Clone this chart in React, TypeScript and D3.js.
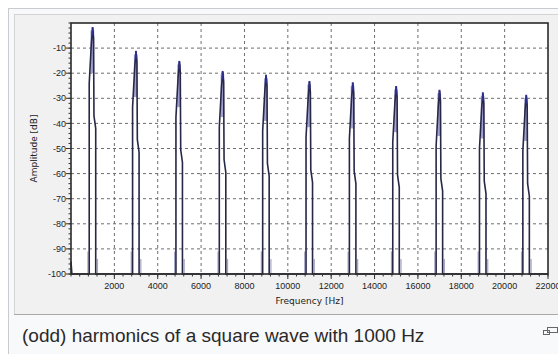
import * as d3 from 'd3';

// Odd harmonics of a 1000 Hz square wave, levels
const HARMONIC_HZ = [1000, 3000, 5000, 7000, 9000, 11000, 13000, 15000, 17000, 19000, 21000];
const PEAK_DB = [-2, -11.5, -15.5, -19.5, -21, -23.5, -24, -25.5, -27, -28, -29];

// shape of one spectral line: offset from the harmonic (Hz) and drop below its peak (dB), null = floor
const TRACE_OFFSET_HZ = [-160, -160, -60, 0, 40, 60, 140, 140];
const TRACE_DROP_DB: (number | null)[] = [null, 22, 6, 0, 4, 35, 40, null];
// lighter trace at the foot of each line
const FOOT_OFFSET_HZ = [-220, 220];
const FOOT_DB = [-91, -94];

const X_TICKS = [2000, 4000, 6000, 8000, 10000, 12000, 14000, 16000, 18000, 20000, 22000];
const Y_TICKS = [-10, -20, -30, -40, -50, -60, -70, -80, -90, -100];
const FLOOR_DB = -100;

export default function App() {
  const W = 558, H = 354;
  const left = 71, right = 548, top = 23, bottom = 274;
  const x = d3.scaleLinear().domain([0, 22000]).range([left, right]);
  const y = d3.scaleLinear().domain([-100, 0]).range([bottom, top]);

  // build the dark spectrum trace
  const pts: [number, number][] = [[0, -95], [40, FLOOR_DB]];
  HARMONIC_HZ.forEach((f, i) => {
    TRACE_OFFSET_HZ.forEach((o, j) => {
      const d = TRACE_DROP_DB[j];
      pts.push([f + o, d === null ? FLOOR_DB : PEAK_DB[i] - d]);
    });
  });
  pts.push([22000, FLOOR_DB]);
  const line = d3.line<[number, number]>().x(d => x(d[0])).y(d => y(d[1]));

  const minorX = d3.range(0, 22001, 400);
  const minorY = d3.range(-100, 1, 2);

  return (
    <svg width={W} height={H} style={{ position: 'absolute', left: 0, top: 0 }}
      fontFamily="'Liberation Sans', Arial, sans-serif">
      <rect x={0} y={0} width={W} height={H} fill="#fff" />
      {/* thumbnail frame */}
      <rect x={8.5} y={8.5} width={W} height={H} fill="#f8f9fa" stroke="#c8ccd1" />
      <rect x={14.5} y={14.5} width={W} height={300} fill="#f1f1f1" stroke="#d4d4d4" />
      <line x1={14} x2={W} y1={314.5} y2={314.5} stroke="#a9a9a9" />

      {/* plot area */}
      <rect x={left} y={top} width={right - left} height={bottom - top} fill="#fff" />
      <g stroke="#6e6e6e" strokeDasharray="3,3" strokeWidth={1}>
        {X_TICKS.slice(0, -1).map(t => (
          <line key={'gx' + t} x1={x(t)} x2={x(t)} y1={top} y2={bottom} />
        ))}
        {Y_TICKS.slice(0, -1).map(t => (
          <line key={'gy' + t} x1={left} x2={right} y1={y(t)} y2={y(t)} />
        ))}
      </g>

      {/* lighter foot traces */}
      <g stroke="#a4a4c4" strokeWidth={1.2}>
        {HARMONIC_HZ.map((f, i) => FOOT_OFFSET_HZ.map((o, j) => (
          <line key={'ft' + i + j} x1={x(f + o)} x2={x(f + o)} y1={y(FLOOR_DB)} y2={y(FOOT_DB[j])} />
        )))}
      </g>
      {/* lavender body near peak tops */}
      <g>
        {HARMONIC_HZ.map((f, i) => (
          <rect key={'lb' + f} x={x(f - 100)} width={x(f + 70) - x(f - 100)}
            y={y(PEAK_DB[i] - 1)} height={y(PEAK_DB[i] - 18) - y(PEAK_DB[i] - 1)}
            fill="#a2a2d0" />
        ))}
      </g>
      <path d={line(pts) ?? ''} fill="none" stroke="#272748" strokeWidth={1.6} />
      <g>
        {HARMONIC_HZ.map((f, i) => (
          <rect key={'tip' + f} x={x(f - 50)} width={x(f + 40) - x(f - 50)}
            y={y(PEAK_DB[i]) - 1} height={y(PEAK_DB[i] - 3) - y(PEAK_DB[i]) + 1}
            fill="#2e2e8c" />
        ))}
      </g>

      {/* frame */}
      <rect x={left} y={top} width={right - left} height={bottom - top} fill="none" stroke="#2a2a2a" strokeWidth={1.6} />

      {/* minor ticks */}
      <g stroke="#333" strokeWidth={1}>
        {minorY.map(t => <line key={'my' + t} x1={left - 2.5} x2={left} y1={y(t)} y2={y(t)} />)}
        {Y_TICKS.map(t => <line key={'My' + t} x1={left - 5} x2={left} y1={y(t)} y2={y(t)} />)}
        {minorX.map(t => <line key={'mx' + t} x1={x(t)} x2={x(t)} y1={bottom} y2={bottom + 2.5} />)}
        {X_TICKS.map(t => <line key={'Mx' + t} x1={x(t)} x2={x(t)} y1={bottom} y2={bottom + 5} />)}
      </g>

      {/* tick labels */}
      <g fontSize={9} fill="#222">
        {Y_TICKS.map(t => (
          <text key={'ly' + t} x={left - 5} y={y(t)} dy="0.35em" textAnchor="end">{t}</text>
        ))}
        {X_TICKS.map(t => (
          <text key={'lx' + t} x={x(t)} y={bottom + 15} textAnchor="middle">{t}</text>
        ))}
      </g>
      <text x={(left + right) / 2} y={304} textAnchor="middle" fontSize={9} fill="#222"
        fontFamily="'DejaVu Sans', sans-serif">Frequency [Hz]</text>
      <text transform={`translate(37,${(top + bottom) / 2}) rotate(-90)`} textAnchor="middle"
        fontSize={9} fill="#222" fontFamily="'DejaVu Sans', sans-serif">Amplitude [dB]</text>

      {/* caption */}
      <text x={22} y={342} fontSize={19} fill="#2a2a2a">(odd) harmonics of a square wave with 1000 Hz</text>
      <g fill="none" stroke="#666" strokeWidth={1}>
        <rect x={543.5} y={330.5} width={6} height={4} />
        <rect x={547.5} y={327.5} width={10} height={5} />
      </g>
    </svg>
  );
}
